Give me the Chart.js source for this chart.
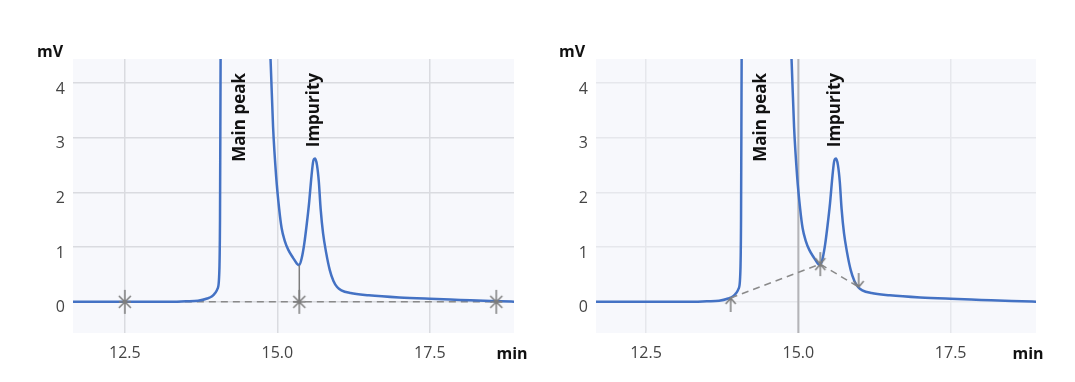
<!DOCTYPE html>
<html>
<head>
<meta charset="utf-8">
<script src="https://cdn.jsdelivr.net/npm/chart.js@4.4.1/dist/chart.umd.min.js"></script>
<style>
    html, body { margin: 0; padding: 0; background: #ffffff; }
    body { width: 1075px; height: 382px; position: relative; overflow: hidden; }
    .panel { position: absolute; top: 0; height: 382px; }
    #left-panel { left: 0; width: 537px; }
    #right-panel { left: 537px; width: 538px; }
</style>
</head>
<body>
<div class="panel" id="left-panel"><canvas id="leftChart"></canvas></div>
<div class="panel" id="right-panel"><canvas id="rightChart"></canvas></div>
<script>
// Chromatogram signal (retention time in min, detector response in mV)
const timeMin = [11.6, 12.0, 12.5, 13.0, 13.3, 13.5, 13.7, 13.85, 13.93, 13.98, 14.02, 14.045, 14.06, 14.07, 14.09,
    14.13, 14.2, 14.3, 14.4, 14.5, 14.6, 14.7, 14.78, 14.84, 14.89, 14.93, 14.98, 15.03, 15.07, 15.12, 15.18,
    15.26, 15.32, 15.36, 15.40, 15.44, 15.48, 15.52, 15.56, 15.59, 15.62, 15.65, 15.68, 15.71, 15.75, 15.80,
    15.86, 15.92, 15.98, 16.05, 16.2, 16.5, 17.0, 17.5, 18.0, 18.5, 19.0];
const signalMv = [0.0, 0.0, 0.0, 0.0, 0.0, 0.01, 0.02, 0.06, 0.10, 0.16, 0.24, 0.45, 1.5, 4.5, 9,
    18, 28, 34, 32, 26, 19, 12, 7.5, 5.5, 4.4, 3.2, 2.3, 1.7, 1.35, 1.12, 0.95,
    0.80, 0.70, 0.67, 0.80, 1.05, 1.40, 1.80, 2.30, 2.58, 2.62, 2.50, 2.20, 1.70, 1.25, 0.90,
    0.58, 0.38, 0.27, 0.21, 0.16, 0.12, 0.08, 0.055, 0.035, 0.015, 0.0];

// Axis ticks
const xTicks = [12.5, 15.0, 17.5];
const yTicks = [0, 1, 2, 3, 4];

// Peak labels
const peakNames = ['Main peak', 'Impurity'];
const peakTimes = [14.39, 15.61];

// Left panel: perpendicular drop integration
const dropBaseX = [12.5, 18.59];
const dropBaseY = [0, 0];
const dropLineX = [15.36, 15.36];
const dropLineY = [0, 0.67];
const dropMarkX = [12.5, 15.36, 18.59];
const dropMarkY = [0, 0, 0];

// Right panel: valley-to-valley integration
const valleyX = [13.89, 15.36, 15.99];
const valleyY = [0.07, 0.69, 0.27];
const valleyStyles = ['arrowUp', 'star', 'arrowDown'];
const cursorX = [15.0];

const yMin = -0.57;
const yMax = 4.44;

function toPoints(xs, ys) {
    return xs.map((x, i) => ({ x: x, y: ys[i] }));
}

// Small canvas markers (asterisks and arrows) used as point styles
function makeMarker(kind) {
    const c = document.createElement('canvas');
    c.width = 28;
    c.height = 30;
    const g = c.getContext('2d');
    const mx = 14, my = 15;
    g.strokeStyle = '#7d7d7d';
    g.lineWidth = 1.5;
    g.beginPath();
    if (kind === 'asterisk') {
        g.moveTo(mx, my - 12); g.lineTo(mx, my + 12);
        g.moveTo(mx - 6, my - 6); g.lineTo(mx + 6, my + 6);
        g.moveTo(mx + 6, my - 6); g.lineTo(mx - 6, my + 6);
        g.moveTo(mx - 6, my); g.lineTo(mx + 6, my);
    } else if (kind === 'arrowUp') {
        g.moveTo(mx, my); g.lineTo(mx, my + 14);
        g.moveTo(mx - 5, my + 6); g.lineTo(mx, my); g.lineTo(mx + 5, my + 6);
    } else if (kind === 'arrowDown') {
        g.moveTo(mx, my); g.lineTo(mx, my - 14);
        g.moveTo(mx - 5, my - 6); g.lineTo(mx, my); g.lineTo(mx + 5, my - 6);
    } else {
        g.moveTo(mx, my - 12); g.lineTo(mx, my + 12);
        g.moveTo(mx - 5, my - 6); g.lineTo(mx, my); g.lineTo(mx + 5, my - 6);
        g.moveTo(mx - 5, my + 6); g.lineTo(mx, my); g.lineTo(mx + 5, my + 6);
    }
    g.stroke();
    return c;
}

// Plot background + axis units + peak names
const chromPlugin = {
    id: 'chrom',
    beforeDraw(chart) {
        const a = chart.chartArea;
        const ctx = chart.ctx;
        ctx.save();
        ctx.fillStyle = '#f7f8fc';
        ctx.fillRect(a.left, a.top, a.right - a.left, a.bottom - a.top);
        ctx.restore();
    },
    afterDatasetsDraw(chart, args, opts) {
        const a = chart.chartArea;
        const ctx = chart.ctx;
        const xScale = chart.scales.x;
        ctx.save();
        ctx.fillStyle = '#111';
        ctx.font = 'bold 16px "Open Sans", sans-serif';
        ctx.textBaseline = 'middle';
        ctx.textAlign = 'center';
        ctx.fillText('mV', a.left + opts.mvDx, a.top - 7);
        ctx.fillText('min', a.right + opts.minDx, 354);

        ctx.font = 'bold 17px "Open Sans", sans-serif';
        ctx.textAlign = 'right';
        peakNames.forEach((name, i) => {
            ctx.save();
            ctx.translate(xScale.getPixelForValue(peakTimes[i]), 73);
            ctx.rotate(-Math.PI / 2);
            ctx.fillText(name, 0, 0);
            ctx.restore();
        });
        ctx.restore();
    }
};

function makeOptions(xMin, xMax, padRight, yWidth, gridColor, mvDx, minDx) {
    return {
        responsive: true,
        maintainAspectRatio: false,
        animation: false,
        layout: { padding: { top: 59, right: padRight, bottom: 0, left: 0 } },
        plugins: {
            legend: { display: false },
            tooltip: { enabled: false },
            chrom: { mvDx: mvDx, minDx: minDx }
        },
        scales: {
            x: {
                type: 'linear',
                min: xMin,
                max: xMax,
                border: { display: false },
                grid: { color: gridColor, lineWidth: 1.5, drawTicks: false },
                ticks: {
                    color: '#444',
                    font: { size: 16 },
                    padding: 11,
                    callback: v => v.toFixed(1)
                },
                afterBuildTicks: s => { s.ticks = xTicks.map(v => ({ value: v })); },
                afterFit: s => { s.height = 49; }
            },
            y: {
                type: 'linear',
                min: yMin,
                max: yMax,
                border: { display: false },
                grid: { color: gridColor, lineWidth: 1.5, drawTicks: false },
                ticks: {
                    color: '#444',
                    font: { size: 16 },
                    padding: 8,
                    labelOffset: 6
                },
                afterBuildTicks: s => { s.ticks = yTicks.map(v => ({ value: v })); },
                afterFit: s => { s.width = yWidth; }
            }
        }
    };
}

function signalDataset() {
    return {
        data: toPoints(timeMin, signalMv),
        showLine: true,
        borderColor: '#4472c4',
        borderWidth: 2.5,
        pointRadius: 0,
        cubicInterpolationMode: 'monotone',
        order: 2
    };
}

Chart.defaults.font.family = '"Open Sans", sans-serif';

// Left chart
new Chart(document.getElementById('leftChart'), {
    type: 'scatter',
    data: {
        datasets: [
            signalDataset(),
            {
                data: toPoints(dropBaseX, dropBaseY),
                showLine: true,
                borderColor: '#8a8a8a',
                borderWidth: 1.5,
                borderDash: [7, 5],
                pointRadius: 0,
                order: 3
            },
            {
                data: toPoints(dropLineX, dropLineY),
                showLine: true,
                borderColor: '#7d7d7d',
                borderWidth: 1.5,
                pointRadius: 0,
                order: 1
            },
            {
                data: toPoints(dropMarkX, dropMarkY),
                showLine: false,
                pointStyle: makeMarker('asterisk'),
                order: 0
            }
        ]
    },
    options: makeOptions(11.65, 18.88, 23, 73, '#dadbe0', -23, -2),
    plugins: [chromPlugin]
});

// Right chart
new Chart(document.getElementById('rightChart'), {
    type: 'scatter',
    data: {
        datasets: [
            signalDataset(),
            {
                data: toPoints(valleyX, valleyY),
                showLine: true,
                borderColor: '#8a8a8a',
                borderWidth: 1.5,
                borderDash: [7, 5],
                pointStyle: valleyStyles.map(makeMarker),
                order: 1
            },
            {
                data: toPoints([cursorX[0], cursorX[0]], [yMin, yMax]),
                showLine: true,
                borderColor: '#b4b4b8',
                borderWidth: 2,
                pointRadius: 0,
                order: 3
            }
        ]
    },
    options: makeOptions(11.68, 18.90, 39, 59, '#e6e7ec', -24, -8),
    plugins: [chromPlugin]
});
</script>
</body>
</html>
